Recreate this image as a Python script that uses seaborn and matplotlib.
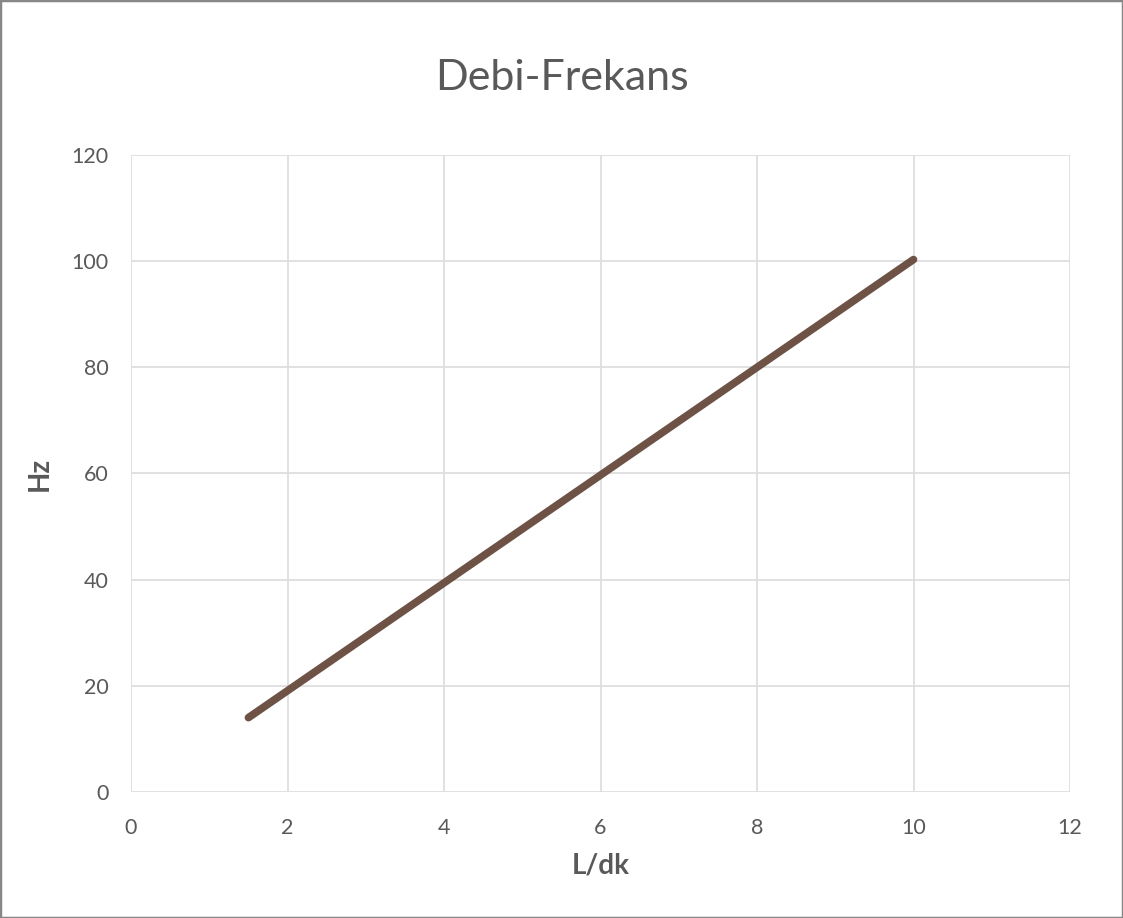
import matplotlib
matplotlib.use('Agg')
import matplotlib.pyplot as plt
import pandas as pd
import seaborn as sns
from matplotlib.patches import Rectangle

# values
debi = [1.5, 10]
frekans = [14, 100.3]
x_ticks = [0, 2, 4, 6, 8, 10, 12]
y_ticks = [0, 20, 40, 60, 80, 100, 120]

df = pd.DataFrame({'L/dk': debi, 'Hz': frekans})

sns.set_style('white')
plt.rcParams['font.family'] = ['Lato', 'DejaVu Sans']

text_col = '#595959'
grid_col = '#DEDEDE'

fig = plt.figure(figsize=(11.23, 9.18), dpi=100)
ax = fig.add_axes([0.1167, 0.1373, 0.9528 - 0.1167, 0.8312 - 0.1373])

sns.lineplot(data=df, x='L/dk', y='Hz', color='#6E5246', linewidth=5.5,
             solid_capstyle='round', ax=ax, zorder=3)

ax.set_xlim(0, 12)
ax.set_ylim(0, 120)
ax.set_xticks(x_ticks)
ax.set_yticks(y_ticks)
ax.grid(True, color=grid_col, linewidth=1.3)
ax.set_axisbelow(True)
for s in ax.spines.values():
    s.set_visible(False)
ax.tick_params(axis='both', length=0, labelsize=15.5, labelcolor=text_col)
ax.tick_params(axis='x', pad=19)
ax.tick_params(axis='y', pad=16)

ax.set_xlabel('L/dk', fontsize=20, fontweight='bold', color=text_col, labelpad=10)
ax.set_ylabel('Hz', fontsize=20, fontweight='bold', color=text_col, labelpad=14)
fig.text(0.5, 0.915, 'Debi-Frekans', ha='center', va='center',
         fontsize=31, color=text_col)

fig.patches.append(Rectangle((0, 0), 1, 1, transform=fig.transFigure,
                             fill=False, edgecolor='#878787', linewidth=2.5))

fig.savefig('out.png', dpi=100)
